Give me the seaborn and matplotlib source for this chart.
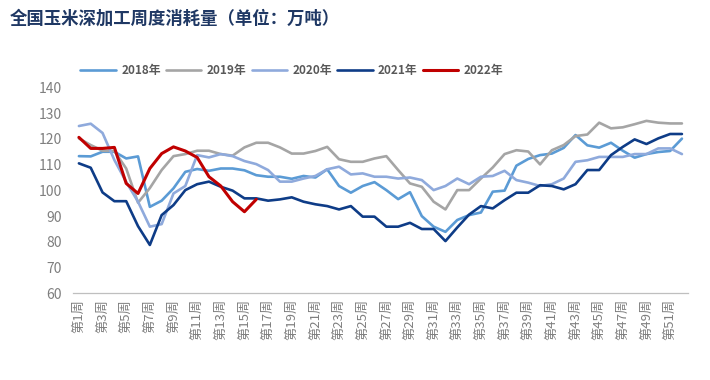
import numpy as np
import pandas as pd
import matplotlib
matplotlib.use("Agg")
import matplotlib.pyplot as plt
import seaborn as sns

# weekly consumption (10k tonnes)
weeks = list(range(1, 53))

y2018 = [113.3, 113.2, 115.0, 115.0, 112.4, 113.2, 93.6, 96.0, 100.8, 107.2,
         108.3, 107.6, 108.5, 108.5, 107.8, 105.9, 105.3, 105.3, 104.5, 105.6,
         105.0, 108.2, 101.7, 99.1, 101.7, 103.2, 100.1, 96.6, 99.3, 90.0,
         85.9, 83.9, 88.5, 90.4, 91.4, 99.5, 99.9, 109.6, 112.2, 113.7,
         114.3, 116.5, 121.5, 117.5, 116.6, 118.5, 115.4, 112.7, 114.1, 114.9,
         115.3, 120.1]
y2019 = [120.2, 117.6, 115.4, 115.3, 108.5, 95.2, 100.9, 107.9, 113.3, 114.1,
         115.4, 115.4, 114.1, 113.5, 116.7, 118.5, 118.5, 116.7, 114.3, 114.3,
         115.3, 116.9, 112.1, 111.1, 111.1, 112.4, 113.3, 107.9, 102.7, 101.4,
         95.6, 92.6, 100.1, 100.1, 104.6, 108.9, 114.1, 115.6, 115.1, 110.1,
         115.6, 117.6, 121.1, 121.7, 126.3, 124.1, 124.5, 125.7, 127.0, 126.3,
         126.0, 126.0]
y2020 = [125.0, 125.9, 122.3, 111.8, 103.3, 95.6, 85.9, 86.9, 98.8, 101.7,
         113.7, 112.8, 114.1, 113.3, 111.4, 110.2, 107.9, 103.4, 103.4, 104.6,
         105.6, 108.2, 109.2, 106.2, 106.6, 105.3, 105.3, 104.6, 105.0, 104.0,
         100.1, 101.7, 104.6, 102.4, 105.3, 105.6, 107.6, 104.0, 103.0, 101.7,
         102.4, 104.6, 111.1, 111.7, 113.0, 113.0, 113.0, 114.1, 114.1, 116.3,
         116.3, 114.1]
y2021 = [110.5, 108.8, 99.2, 95.8, 95.8, 86.1, 78.8, 90.4, 94.3, 100.1,
         102.4, 103.4, 101.4, 99.9, 96.9, 96.9, 96.0, 96.5, 97.3, 95.6,
         94.6, 93.9, 92.6, 93.9, 89.8, 89.8, 85.9, 85.9, 87.4, 85.0,
         85.0, 80.3, 85.6, 90.6, 93.9, 93.0, 96.2, 99.1, 99.1, 102.0,
         101.7, 100.4, 102.4, 107.9, 107.9, 113.7, 116.9, 119.8, 118.0, 120.2,
         121.9, 121.9]
y2022 = [120.6, 116.3, 116.3, 116.7, 102.7, 98.8, 108.5, 114.3, 116.9, 115.3,
         112.8, 105.3, 101.7, 95.6, 91.7, 96.5]

years = ['2018年', '2019年', '2020年', '2021年', '2022年']
colors = ['#5B9BD5', '#A5A5A5', '#8FAADC', '#0E3C87', '#C00000']
widths = [1.9, 1.9, 1.9, 1.9, 2.2]
xlabels = ['第%d周' % w for w in weeks[::2]]

frames = []
for yr, vals in zip(years, [y2018, y2019, y2020, y2021, y2022]):
    frames.append(pd.DataFrame({'week': weeks[:len(vals)], 'value': vals, 'year': yr}))
df = pd.concat(frames, ignore_index=True)

sns.set_style('white')
plt.rcParams['font.family'] = ['Noto Sans CJK SC', 'DejaVu Sans']

fig = plt.figure(figsize=(7.1, 3.8), dpi=100)
ax = fig.add_axes([0.1028, 0.228, 0.866, 0.542])

for yr, c, lw in zip(years, colors, widths):
    sns.lineplot(data=df[df['year'] == yr], x='week', y='value', color=c,
                 linewidth=lw, label=yr, ax=ax)

ax.set_xlim(0.5, 52.5)
ax.set_ylim(60, 140)
ax.set_yticks(range(60, 141, 10))
ax.set_xlabel('')
ax.set_ylabel('')

# category boundary ticks, labels on odd weeks
ax.set_xticks(np.arange(0.5, 53, 1))
ax.set_xticklabels([])
ax.set_xticks(weeks[::2], minor=True)
ax.set_xticklabels(xlabels, minor=True, rotation=90, fontsize=9.5, color='#7f7f7f')
ax.tick_params(axis='x', which='major', length=3, color='#bfbfbf', direction='out', width=0.8)
ax.tick_params(axis='x', which='minor', length=0, pad=4)
ax.tick_params(axis='y', length=0, pad=8, labelsize=10, labelcolor='#7f7f7f')

for s in ['top', 'right', 'left']:
    ax.spines[s].set_visible(False)
ax.spines['bottom'].set_color('#bfbfbf')
ax.spines['bottom'].set_linewidth(0.9)

leg = ax.legend(loc='center', bbox_to_anchor=(0.356, 1.083), ncol=5, frameon=False,
                handlelength=3.0, handletextpad=0.45, columnspacing=0.45,
                prop={'size': 8.5, 'weight': 'bold'})
for t in leg.get_texts():
    t.set_color('#595959')

fig.text(0.014, 0.952, '全国玉米深加工周度消耗量（单位：万吨）', fontsize=12.5,
         fontweight='bold', color='#1F3864', va='center', ha='left')

fig.savefig('out.png', dpi=100)
